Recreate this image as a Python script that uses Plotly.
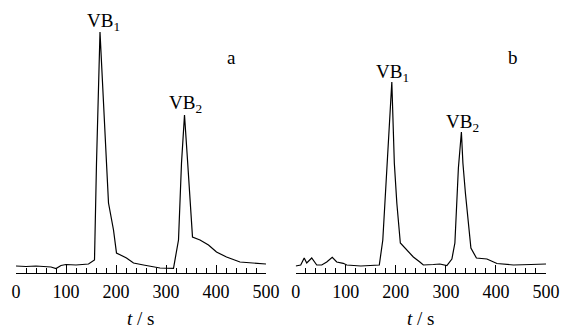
import plotly.graph_objects as go

# Panel a
t_a = [0, 20, 40, 60, 70, 80, 90, 100, 120, 145, 157, 161, 168, 181, 185, 195, 201,
       221, 235, 255, 275, 288, 315, 325, 331, 337, 343, 353, 368, 385, 401, 421, 448, 475, 500]
v_a = [7, 6.5, 7, 6.5, 6, 4.5, 7.5, 8.5, 8, 9, 13, 110, 241, 110, 70, 43, 20,
       15, 10, 8, 6, 5, 4.7, 33, 110, 158, 113, 36, 33, 28, 21, 16, 11, 9.7, 9]

# Panel b
t_b = [0, 10, 17, 22, 32, 42, 52, 62, 73, 82, 95, 102, 130, 167, 174, 183, 192, 197,
       202, 209, 222, 235, 248, 255, 275, 288, 302, 312, 318, 325, 331, 334, 339, 350,
       361, 382, 402, 435, 470, 500]
v_b = [7, 8, 15, 10, 15, 8, 8, 11, 15.7, 11, 9.7, 8, 7, 8, 33, 110, 191, 110,
       70, 30, 23, 16, 11, 8, 8.5, 9, 7.5, 14, 30, 105, 141, 110, 80, 25,
       15, 14, 9.5, 8, 8.5, 9]

tick_vals = [0, 100, 200, 300, 400, 500]
tick_text = ["0", "100", "200", "300", "400", "500"]

FONT = "Liberation Serif, Times New Roman, serif"
W, H = 562, 328

fig = go.Figure()
fig.add_trace(go.Scatter(x=t_a, y=v_a, mode="lines", line=dict(color="black", width=1.2),
                         xaxis="x", yaxis="y", showlegend=False, hoverinfo="skip"))
fig.add_trace(go.Scatter(x=t_b, y=v_b, mode="lines", line=dict(color="black", width=1.2),
                         xaxis="x2", yaxis="y2", showlegend=False, hoverinfo="skip"))

xcommon = dict(range=[0, 500], showline=True, linecolor="black", linewidth=1,
               ticks="inside", ticklen=8, tickwidth=1, tickcolor="black",
               tickvals=tick_vals, ticktext=tick_text, showgrid=False, zeroline=False,
               automargin=False, ticklabelstandoff=2, fixedrange=True,
               tickfont=dict(family=FONT, size=18, color="black"),
               minor=dict(dtick=20, ticks="inside", ticklen=5, tickwidth=1,
                          tickcolor="black", showgrid=False))
ycommon = dict(range=[0, 273], visible=False, fixedrange=True, automargin=False)

fig.update_layout(
    width=W, height=H,
    margin=dict(l=0, r=0, t=0, b=55, autoexpand=False),
    paper_bgcolor="white", plot_bgcolor="white",
    xaxis=dict(domain=[16 / W, 266 / W], anchor="y", **xcommon),
    xaxis2=dict(domain=[295.7 / W, 546 / W], anchor="y2", **xcommon),
    yaxis=dict(anchor="x", **ycommon),
    yaxis2=dict(anchor="x2", **ycommon),
)

def ann(text, x, y, xref, yref, size=19):
    fig.add_annotation(text=text, x=x, y=y, xref=xref, yref=yref, showarrow=False,
                       font=dict(family=FONT, size=size, color="black"),
                       xanchor="center", yanchor="middle")

ann("VB<sub>1</sub>", 174, 251, "x", "y")
ann("VB<sub>2</sub>", 338, 169, "x", "y")
ann("a", 430, 216, "x", "y")
ann("VB<sub>1</sub>", 193, 200, "x2", "y2")
ann("VB<sub>2</sub>", 333, 150, "x2", "y2")
ann("b", 435, 216, "x2", "y2")
ann("<i>t</i> / s", 140 / W, -(318 - 273) / 273, "paper", "paper")
ann("<i>t</i> / s", 420 / W, -(318 - 273) / 273, "paper", "paper")

fig.write_html(
    "out.html",
    config={"displayModeBar": False, "staticPlot": True},
    post_script="document.body.style.margin='0';"
                "document.documentElement.style.overflow='hidden';"
                "document.body.style.overflow='hidden';",
)
